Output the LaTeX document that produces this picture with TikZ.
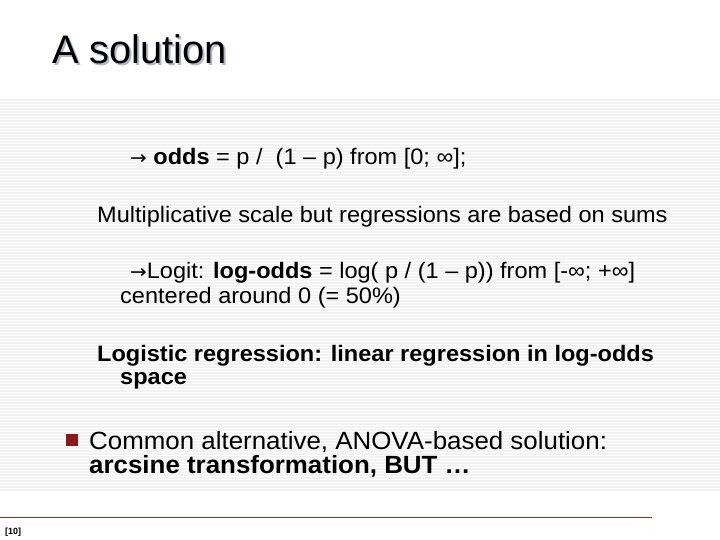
\documentclass[tikz,border=0pt]{standalone}
\usepackage{fontspec}
\setmainfont{Liberation Sans}
\newfontfamily\arrfont{DejaVu Sans}
\begin{document}
\begin{tikzpicture}[x=1bp,y=-1bp,
  txt/.style={anchor=base west,inner sep=0pt,xscale=1.05,font=\fontsize{22.5}{26}\selectfont},
  big/.style={anchor=base west,inner sep=0pt,xscale=1.04,font=\fontsize{25}{29}\selectfont},
  ttl/.style={anchor=base west,inner sep=0pt,font=\fontsize{40}{46}\selectfont}]
\useasboundingbox (0,0) rectangle (720,540);
\fill[white] (0,0) rectangle (720,540);
\foreach \y in {100,103,...,490} \draw[gray!10,line width=1.2bp] (0,\y) -- (720,\y);
\node[ttl,text=blue!15!gray!50] (ts) at (54,66) {A solution};
\node[ttl] (t) at (52,64) {A solution};
\node[txt] (a) at (130,165) {{\arrfont\fontsize{19}{22}\selectfont→} \textbf{odds} = p /\ \ (1 – p) from [0; ∞];};
\node[txt] (b) at (97,223) {Multiplicative scale but regressions are based on sums};
\node[txt] (c) at (130,279) {{\arrfont\fontsize{19}{22}\selectfont→}Logit: \textbf{log-odds} = log( p / (1 – p)) from [-∞; +∞]};
\node[txt] (c2) at (120,303) {centered around 0 (= 50\%)};
\node[txt] (d) at (97,361) {\textbf{Logistic regression: linear regression in log-odds}};
\node[txt] (d2) at (120,384) {\textbf{space}};
\fill[red!50!black!90] (66,434) rectangle (78,446);
\node[big] (e) at (89,449) {Common alternative, ANOVA-based solution:};
\node[big] (e2) at (89,473) {\textbf{arcsine transformation, BUT …}};
\draw[red!40!black!80,line width=1bp] (0,517.5) -- (652,517.5);
\node[anchor=base west,inner sep=0pt,font=\fontsize{9}{10}\selectfont\bfseries] (f) at (5,534) {[10]};
\end{tikzpicture}
\end{document}
